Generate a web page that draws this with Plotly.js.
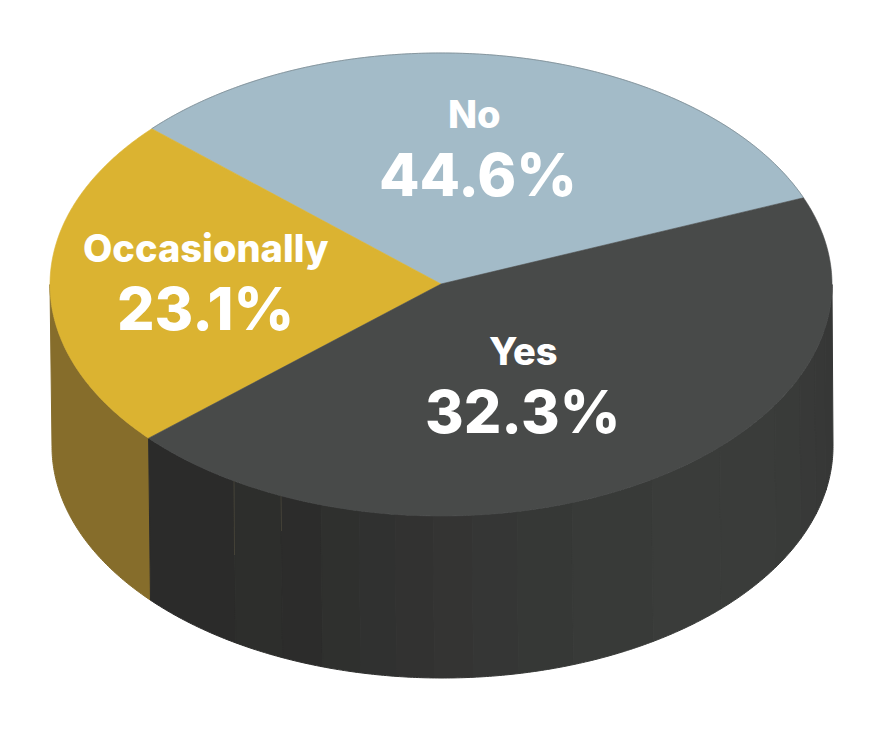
<!DOCTYPE html>
<html><head><meta charset="utf-8">
<script src="https://cdn.plot.ly/plotly-3.0.1.min.js"></script>
<style>html,body{margin:0;padding:0;background:#fff}#c{width:883px;height:729px}</style>
</head><body><div id="c"></div>
<script>
// Data
const sliceLabels = ['No', 'Occasionally', 'Yes'];
const sliceValues = [44.6, 23.1, 32.3];          // printed percentages
const drawnSweepDeg = [115.7, 83.9, 160.4];      // angle each slice actually occupies in the picture
const startDeg = 22;
const topColors = ['#a3bbc8', '#dbb331', '#484a49'];
const goldSideColor = '#866d2b';
const bandEdgeX = [148,234,281,321,359,395,433,472,517,572,652,720,775,800,815,825,832];
const bandColors = ['#2b2b2a','#2d2e2c','#2c2c2b','#2f302e','#303130','#323231','#343433','#353635','#363836','#383a38','#3a3c3a','#3a3c3a','#393b39','#383938','#373837','#363736'];
const crackX = [234, 281];
const crackEnd = [555, 531];

// Geometry of the tilted disc, in axis units
const cx = 441, cy = 284.5, rx = 391, ry = 231.5, depth = 162, drift = 1.5, apexY = 284;
const rad = d => d * Math.PI / 180;
const rimX = (a, k) => cx + k * drift + (rx - 0.5 * k) * Math.cos(rad(a));
const rimY = (a, k) => cy - ry * Math.sin(rad(a)) + k * depth;
function arc(a0, a1, k) {
  const n = Math.max(4, Math.ceil(Math.abs(a1 - a0) * 2)), xs = [], ys = [];
  for (let i = 0; i <= n; i++) { const a = a0 + (a1 - a0) * i / n; xs.push(rimX(a, k)); ys.push(rimY(a, k)); }
  return [xs, ys];
}
function wall(a0, a1, color) {
  const [tx, ty] = arc(a0, a1, 0), [bx, by] = arc(a1, a0, 1);
  return { x: tx.concat(bx, [tx[0]]), y: ty.concat(by, [ty[0]]), type: 'scatter', mode: 'lines', fill: 'toself',
           fillcolor: color, line: { color: color, width: 1, simplify: false }, hoverinfo: 'skip', showlegend: false };
}
const traces = [];
// Boundaries of the slices
let acc = startDeg; const bounds = [acc];
drawnSweepDeg.forEach(s => { acc += s; bounds.push(acc); });
// Side walls
traces.push(wall(180, bounds[2], goldSideColor));
const xToDeg = x => 360 - Math.acos((x - cx) / rx) * 180 / Math.PI;
bandColors.forEach((c, i) => {
  const a0 = i === 0 ? bounds[2] : xToDeg(bandEdgeX[i]);
  const a1 = i === bandColors.length - 1 ? 360 : xToDeg(bandEdgeX[i + 1]);
  traces.push(wall(a0, a1, c));
});
// Hairline cracks in the dark wall
crackX.forEach((x, i) => {
  const a = xToDeg(x);
  traces.push({ x: [x, x + 0.5], y: [rimY(a, 0), crackEnd[i]], type: 'scatter', mode: 'lines',
                line: { color: '#565040', width: 0.6 }, hoverinfo: 'skip', showlegend: false });
});
// Top faces
sliceLabels.forEach((name, i) => {
  const [ax, ay] = arc(bounds[i], bounds[i + 1], 0);
  traces.push({ x: [cx].concat(ax, [cx]), y: [apexY].concat(ay, [apexY]), type: 'scatter', mode: 'lines', fill: 'toself',
                fillcolor: topColors[i], line: { color: topColors[i], width: 0.6, simplify: false }, name: name,
                hoverinfo: 'name', showlegend: false });
});
// Thin rim on the blue slice
const [bx, by] = arc(bounds[0], bounds[1], 0);
traces.push({ x: bx, y: by, type: 'scatter', mode: 'lines', line: { color: '#7b8a92', width: 0.8, simplify: false }, hoverinfo: 'skip', showlegend: false });

const FONT = 'Inter, "Noto Sans", sans-serif';
const labelPos = [[474, 114, 478, 174], [206, 248, 205, 308], [523, 351, 522, 411]];
const annotations = [];
sliceLabels.forEach((name, i) => {
  const p = labelPos[i];
  annotations.push({ x: p[0], y: p[1], xref: 'x', yref: 'y', text: name, showarrow: false, xanchor: 'center', yanchor: 'middle',
                     font: { family: FONT, size: 38, color: '#ffffff', weight: 800 } });
  annotations.push({ x: p[2], y: p[3], xref: 'x', yref: 'y', text: sliceValues[i].toFixed(1) + '%', showarrow: false, xanchor: 'center', yanchor: 'middle',
                     font: { family: FONT, size: 59, color: '#ffffff', weight: 800 } });
});
Plotly.newPlot('c', traces, {
  width: 883, height: 729, margin: { l: 0, r: 0, t: 0, b: 0 },
  paper_bgcolor: '#ffffff', plot_bgcolor: '#ffffff', showlegend: false,
  xaxis: { range: [0, 883], visible: false, fixedrange: true },
  yaxis: { range: [729, 0], visible: false, fixedrange: true },
  annotations: annotations
}, { displayModeBar: false, staticPlot: true });
</script></body></html>
